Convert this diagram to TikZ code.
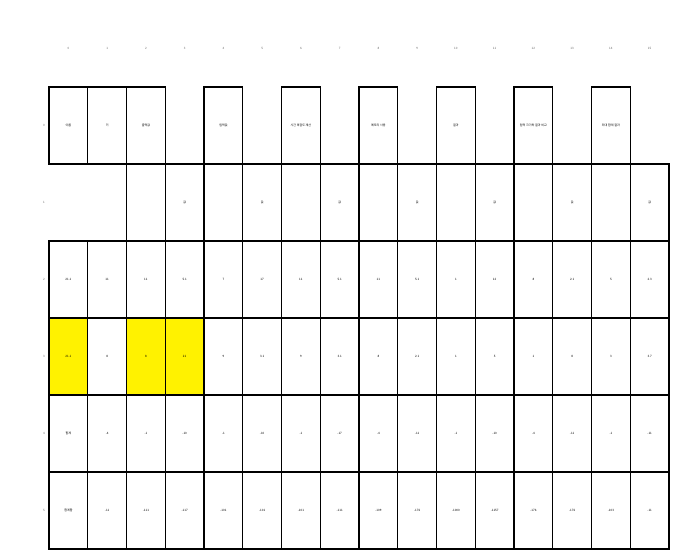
\documentclass[tikz,border=0pt]{standalone}
\usepackage{fontspec}
\newfontfamily\krfont{Noto Sans CJK KR}

\begin{document}
\begin{tikzpicture}[x=1pt,y=-1pt,
        every node/.style={font=\fontsize{3}{3.5}\selectfont\krfont,inner sep=0pt},
        cell/.style={draw,line width=1.1pt,minimum width=38.75pt,minimum height=77pt},
        hit/.style={cell,fill=yellow},
        idx/.style={text=black!60}]

    \useasboundingbox (0,0) rectangle (678,559);

    % column and row indices
    \foreach \c in {0,...,15}
        \node[idx] (col\c) at ({68.4+38.75*\c},48) {\c};
    \foreach \r in {0,...,5}
        \node[idx] (row\r) at (44,{125.5+77*\r}) {\r};

    % row 0
    \foreach \c/\t in {0/이름,1/키,2/출력값,4/입력값,6/시간 복잡도 계산,8/메모리 사용,10/결과,12/입력 크기와 결과 비교,14/최대 합계 결과}
        \node[cell] (cell0-\c) at ({68.4+38.75*\c},125.5) {\t};

    % row 1
    \foreach \c/\t in {2/,3/값,4/,5/값,6/,7/값,8/,9/값,10/,11/값,12/,13/값,14/,15/값}
        \node[cell] (cell1-\c) at ({68.4+38.75*\c},202.5) {\t};

    % row 2
    \foreach \c/\t in {0/21.1,1/11,2/11,3/5.1,4/7,5/17,6/11,7/5.1,8/11,9/5.1,10/1,11/12,12/8,13/2.1,14/5,15/2.3}
        \node[cell] (cell2-\c) at ({68.4+38.75*\c},279.5) {\t};

    % row 3
    \foreach \c/\t in {0/21.1,1/8,2/8,3/21,4/9,5/3.1,6/9,7/3.1,8/8,9/2.1,10/1,11/5,12/1,13/8,14/3,15/3.7}
        \node[cell] (cell3-\c) at ({68.4+38.75*\c},356.5) {\t};
    \foreach \c in {0,2,3}
        \node[hit] (mark\c) at (cell3-\c) {};
    \foreach \c/\t in {0/21.1,2/8,3/21}
        \node at (cell3-\c) {\t};

    % row 4
    \foreach \c/\t in {0/합계,1/-4,2/-1,3/-10,4/-1,5/-10,6/-1,7/-17,8/-4,9/-11,10/-1,11/-10,12/-4,13/-11,14/-1,15/-11}
        \node[cell] (cell4-\c) at ({68.4+38.75*\c},433.5) {\t};

    % row 5
    \foreach \c/\t in {0/합계합,1/-11,2/-111,3/-117,4/-101,5/-101,6/-101,7/-111,8/-109,9/-176,10/-1000,11/-1157,12/-176,13/-176,14/-103,15/-11}
        \node[cell] (cell5-\c) at ({68.4+38.75*\c},510.5) {\t};
\end{tikzpicture}
\end{document}
